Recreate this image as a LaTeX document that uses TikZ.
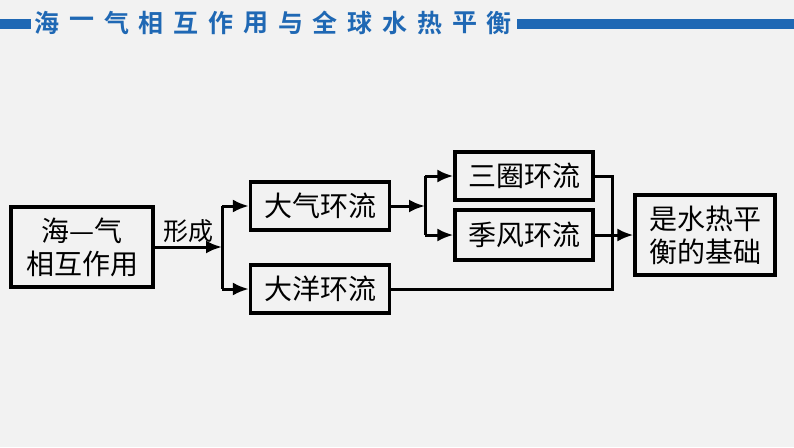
\documentclass[tikz,border=0pt]{standalone}
\usepackage{fontspec}
\newfontfamily\cjk{Noto Sans CJK SC}
\newfontfamily\cjkb{Noto Sans CJK SC Bold}
\usetikzlibrary{arrows.meta}
\definecolor{hblue}{HTML}{1F68B4}
\definecolor{bg}{HTML}{F2F2F2}
\begin{document}
\begin{tikzpicture}[x=1pt,y=-1pt,
  box/.style={draw,line width=3.2pt,minimum height=48pt,inner sep=2pt,font=\cjk\fontsize{28}{30}\selectfont},
  conn/.style={line width=3pt},
  arr/.style={conn,-{Latex[length=16pt,width=13pt]}}]
\fill[bg] (0,0) rectangle (794,447);
\useasboundingbox (0,0) rectangle (794,447);
% header
\fill[hblue] (0,19) rectangle (31,29);
\fill[hblue] (517,19) rectangle (794,29);
\foreach \c [count=\i from 0] in {海,一,气,相,互,作,用,与,全,球,水,热,平,衡}
  \node[text=hblue,font=\cjkb\fontsize{25}{25}\selectfont,inner sep=0] (h\i) at (47+34.8*\i,23) {\c};
% boxes
\node[box,minimum width=142pt,minimum height=80pt,align=center,font=\cjk\fontsize{28}{33}\selectfont] (a) at (82,247) {海—气\\相互作用};
\node[box,minimum width=139pt] (b) at (320,206) {大气环流};
\node[box,minimum width=139pt] (c) at (320,289) {大洋环流};
\node[box,minimum width=138pt] (d) at (524,176) {三圈环流};
\node[box,minimum width=138pt,minimum height=50pt] (e) at (524,235) {季风环流};
\node[box,minimum width=140pt,minimum height=80pt,align=center,font=\cjk\fontsize{28}{33}\selectfont] (f) at (705,235) {是水热平\\衡的基础};
\coordinate (s1) at (222,247);
\coordinate (s2) at (425,206);
\coordinate (s3) at (612,235);
\draw[arr] (a.east) -- (s1) node[midway,above=2pt,font=\cjk\fontsize{25}{25}\selectfont,inner sep=1pt] (lbl) {形成};
\draw[conn] (s1 |- b) -- (s1 |- c);
\draw[arr] (s1 |- b) -- (b.west);
\draw[arr] (s1 |- c) -- (c.west);
\draw[arr] (b.east) -- (s2);
\draw[conn] (s2 |- d) -- (s2 |- e);
\draw[arr] (s2 |- d) -- (d.west);
\draw[arr] (s2 |- e) -- (e.west);
\draw[conn] (d.east) -- (s3 |- d) -- (s3 |- c) -- (c.east);
\draw[conn] (e.east) -- (s3);
\draw[arr] (s3) -- (f.west);
\end{tikzpicture}
\end{document}
